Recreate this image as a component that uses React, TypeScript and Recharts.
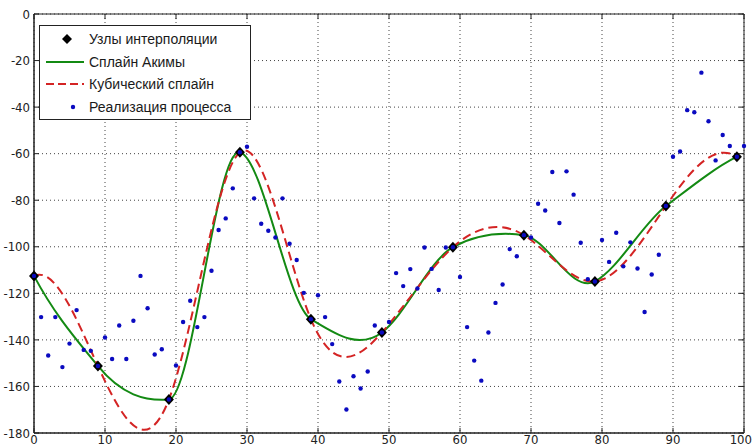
import React from 'react';
import {
  ComposedChart,
  Line,
  Scatter,
  XAxis,
  YAxis,
  CartesianGrid,
  ReferenceArea,
  ReferenceLine,
  Legend,
} from 'recharts';

// realization of the process, one value per x = 0..100
const processY = [
  -112.5, -130.2, -146.7, -130.2, -151.7, -141.6, -127.2, -144.3, -144.7, -151.2,
  -139, -148.2, -133.8, -148.2, -131.8, -112.5, -126.4, -146.3, -144, -165.6,
  -151, -132.3, -123.2, -134.5, -130.2, -110.3, -92.8, -87.8, -74.9, -59.4,
  -57, -79.2, -90.1, -93.1, -96, -79.2, -98.7, -105.7, -119.8, -131.1,
  -120.8, -130.2, -141.8, -157.9, -169.9, -155.6, -160.9, -153.6, -133.8, -136.8,
  -132.3, -111.3, -116.9, -109.6, -117.9, -100.3, -109.5, -118.6, -100.3, -100.2,
  -113, -134.5, -148.9, -157.5, -136.8, -124.1, -116.2, -101, -104.1, -95,
  -96, -81.5, -84.4, -67.9, -89.8, -67.6, -77.6, -98.3, -113.9, -114.9,
  -97.1, -106.5, -94, -108.4, -98.1, -109.3, -128, -111.9, -103.4, -82.5,
  -61.3, -59.1, -41.3, -42.2, -25.2, -46.1, -62.9, -52, -56.7, -61.3,
  -56.7,
];

// interpolation nodes
const nodeX = [0, 9, 19, 29, 39, 49, 59, 69, 79, 89, 99];
const nodeY = [-112.5, -151.2, -165.6, -59.4, -131.1, -136.8, -100.2, -95, -114.9, -82.5, -61.3];

const xTicks = [0, 10, 20, 30, 40, 50, 60, 70, 80, 90, 100];
const yTicks = [0, -20, -40, -60, -80, -100, -120, -140, -160, -180];

const seriesNames = ['Узлы интерполяции', 'Сплайн Акимы', 'Кубический сплайн', 'Реализация процесса'];

const processData = processY.map((y, x) => ({ x, y }));
const nodeData = nodeX.map((x, i) => ({ x, y: nodeY[i] }));

const GREEN = '#138a13';
const RED = '#d42424';
const BLUE = '#0a0ac0';

// tangents of the Akima spline at each node
function akimaSlopes(xs: number[], ys: number[]) {
  const n = xs.length;
  const m: number[] = new Array(n + 3).fill(0);
  for (let i = 0; i < n - 1; i++) m[i + 2] = (ys[i + 1] - ys[i]) / (xs[i + 1] - xs[i]);
  m[1] = 2 * m[2] - m[3];
  m[0] = 2 * m[1] - m[2];
  m[n + 1] = 2 * m[n] - m[n - 1];
  m[n + 2] = 2 * m[n + 1] - m[n];
  const t: number[] = [];
  for (let i = 0; i < n; i++) {
    const w1 = Math.abs(m[i + 3] - m[i + 2]);
    const w2 = Math.abs(m[i + 1] - m[i]);
    t.push(w1 + w2 === 0 ? (m[i + 1] + m[i + 2]) / 2 : (w1 * m[i + 1] + w2 * m[i + 2]) / (w1 + w2));
  }
  return t;
}

// tangents of a not-a-knot cubic spline (what MATLAB's spline() does)
function splineSlopes(xs: number[], ys: number[]) {
  const n = xs.length;
  const h: number[] = [];
  const d: number[] = [];
  for (let i = 0; i < n - 1; i++) {
    h.push(xs[i + 1] - xs[i]);
    d.push((ys[i + 1] - ys[i]) / h[i]);
  }
  const A: number[][] = [];
  const b: number[] = [];
  for (let i = 0; i < n; i++) {
    A.push(new Array(n).fill(0));
    b.push(0);
  }
  A[0][0] = -h[1];
  A[0][1] = h[0] + h[1];
  A[0][2] = -h[0];
  for (let i = 1; i < n - 1; i++) {
    A[i][i - 1] = h[i - 1];
    A[i][i] = 2 * (h[i - 1] + h[i]);
    A[i][i + 1] = h[i];
    b[i] = 6 * (d[i] - d[i - 1]);
  }
  A[n - 1][n - 3] = -h[n - 2];
  A[n - 1][n - 2] = h[n - 2] + h[n - 3];
  A[n - 1][n - 1] = -h[n - 3];
  // gaussian elimination
  for (let c = 0; c < n; c++) {
    let p = c;
    for (let r = c + 1; r < n; r++) if (Math.abs(A[r][c]) > Math.abs(A[p][c])) p = r;
    [A[c], A[p]] = [A[p], A[c]];
    [b[c], b[p]] = [b[p], b[c]];
    for (let r = c + 1; r < n; r++) {
      const f = A[r][c] / A[c][c];
      for (let k = c; k < n; k++) A[r][k] -= f * A[c][k];
      b[r] -= f * b[c];
    }
  }
  const M: number[] = new Array(n).fill(0);
  for (let r = n - 1; r >= 0; r--) {
    let s = b[r];
    for (let k = r + 1; k < n; k++) s -= A[r][k] * M[k];
    M[r] = s / A[r][r];
  }
  const t: number[] = [];
  for (let i = 0; i < n - 1; i++) t.push(d[i] - (h[i] * (2 * M[i] + M[i + 1])) / 6);
  t.push(d[n - 2] + (h[n - 2] * (M[n - 2] + 2 * M[n - 1])) / 6);
  return t;
}

// custom curve factory for recharts' Line type
function makeCurve(slopes: (xs: number[], ys: number[]) => number[]) {
  return (context: any) => {
    let xs: number[] = [];
    let ys: number[] = [];
    return {
      areaStart() {},
      areaEnd() {},
      lineStart() {
        xs = [];
        ys = [];
      },
      point(x: number, y: number) {
        xs.push(+x);
        ys.push(+y);
      },
      lineEnd() {
        const n = xs.length;
        if (!n) return;
        context.moveTo(xs[0], ys[0]);
        if (n < 4) {
          for (let i = 1; i < n; i++) context.lineTo(xs[i], ys[i]);
          return;
        }
        const t = slopes(xs, ys);
        for (let i = 0; i < n - 1; i++) {
          const k = (xs[i + 1] - xs[i]) / 3;
          context.bezierCurveTo(
            xs[i] + k, ys[i] + k * t[i],
            xs[i + 1] - k, ys[i + 1] - k * t[i + 1],
            xs[i + 1], ys[i + 1]
          );
        }
      },
    };
  };
}

const akimaCurve = makeCurve(akimaSlopes);
const cubicCurve = makeCurve(splineSlopes);

const Diamond = (p: any) => (
  <path
    d={`M${p.cx},${p.cy - 5.5}L${p.cx + 5},${p.cy}L${p.cx},${p.cy + 5.5}L${p.cx - 5},${p.cy}Z`}
    fill="#000"
  />
);

const Dot = (p: any) => <circle cx={p.cx} cy={p.cy} r={2.2} fill={BLUE} />;

const LegendBox = () => {
  const symbols = [
    <path d="M27,6L32,11L27,16L22,11Z" fill="#000" />,
    <line x1={6} y1={11} x2={44} y2={11} stroke={GREEN} strokeWidth={2} />,
    <line x1={6} y1={11} x2={44} y2={11} stroke={RED} strokeWidth={2} strokeDasharray="8 4" />,
    <circle cx={33} cy={11} r={2.2} fill={BLUE} />,
  ];
  return (
    <div
      style={{
        width: 212,
        height: 95,
        boxSizing: 'border-box',
        border: '1px solid #222',
        background: '#fff',
        paddingTop: 2,
        fontFamily: '"Liberation Sans", Arial, sans-serif',
        fontSize: 14,
        color: '#1a1a1a',
      }}
    >
      {seriesNames.map((name, i) => (
        <div key={name} style={{ display: 'flex', alignItems: 'center', height: 22.6 }}>
          <svg width={46} height={22} style={{ flex: 'none' }}>
            {symbols[i]}
          </svg>
          <span style={{ marginLeft: 3, whiteSpace: 'nowrap' }}>{name}</span>
        </div>
      ))}
    </div>
  );
};

const tickFont = '"Liberation Sans Narrow", "DejaVu Sans Condensed", sans-serif';

// x tick label: the last one is pulled inside the page edge
const XTick = (p: any) => {
  const last = p.payload.value === xTicks[xTicks.length - 1];
  return (
    <text
      x={last ? p.x + 8 : p.x}
      y={p.y}
      dy="0.71em"
      textAnchor={last ? 'end' : 'middle'}
      fontFamily={tickFont}
      fontSize={13}
      fill="#222"
    >
      {p.payload.value}
    </text>
  );
};

export default function App() {
  return (
    <div style={{ position: 'absolute', left: 0, top: 0, background: '#fff' }}>
      <ComposedChart
        width={753}
        height={448}
        data={processData}
        margin={{ top: 14, right: 9, bottom: 0, left: 0 }}
      >
        <CartesianGrid stroke="#444" strokeDasharray="1 3" />
        <XAxis
          dataKey="x"
          type="number"
          domain={[0, 100]}
          ticks={xTicks}
          height={15}
          tickLine={false}
          tickSize={0}
          tickMargin={2}
          axisLine={{ stroke: '#222' }}
          tick={XTick}
          interval={0}
        />
        <YAxis
          type="number"
          domain={[-180, 0]}
          ticks={yTicks}
          width={34}
          tickLine={false}
          tickSize={0}
          tickMargin={4}
          axisLine={{ stroke: '#222' }}
          tick={{ fontFamily: tickFont, fontSize: 13, fill: '#222' }}
          interval={0}
        />
        <ReferenceArea x1={0} x2={100} y1={-180} y2={0} fill="none" stroke="#222" fillOpacity={0} />
        {xTicks.map((t) => (
          <ReferenceLine key={'b' + t} segment={[{ x: t, y: -180 }, { x: t, y: -177.8 }]} stroke="#222" />
        ))}
        {xTicks.map((t) => (
          <ReferenceLine key={'t' + t} segment={[{ x: t, y: 0 }, { x: t, y: -2.2 }]} stroke="#222" />
        ))}
        {yTicks.map((t) => (
          <ReferenceLine key={'l' + t} segment={[{ x: 0, y: t }, { x: 0.7, y: t }]} stroke="#222" />
        ))}
        {yTicks.map((t) => (
          <ReferenceLine key={'r' + t} segment={[{ x: 100, y: t }, { x: 99.3, y: t }]} stroke="#222" />
        ))}
        <Line
          data={nodeData}
          dataKey="y"
          name={seriesNames[1]}
          type={akimaCurve as any}
          stroke={GREEN}
          strokeWidth={2}
          dot={false}
          activeDot={false}
          isAnimationActive={false}
        />
        <Line
          data={nodeData}
          dataKey="y"
          name={seriesNames[2]}
          type={cubicCurve as any}
          stroke={RED}
          strokeWidth={2}
          strokeDasharray="9 5"
          dot={false}
          activeDot={false}
          isAnimationActive={false}
        />
        <Scatter
          data={nodeData}
          dataKey="y"
          name={seriesNames[0]}
          shape={Diamond}
          isAnimationActive={false}
        />
        <Scatter
          data={processData}
          dataKey="y"
          name={seriesNames[3]}
          shape={Dot}
          isAnimationActive={false}
        />
        <Legend
          layout="vertical"
          align="center"
          verticalAlign="middle"
          wrapperStyle={{ left: 39, top: 25, width: 212, height: 95 }}
          content={() => <LegendBox />}
        />
      </ComposedChart>
    </div>
  );
}
